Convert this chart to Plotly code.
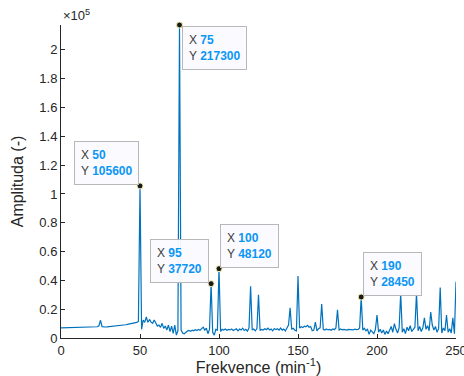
import plotly.graph_objects as go

# Frequency axis (min^-1) and spectrum amplitude
freq = list(range(0, 251))
amplitude = [
    # 0-49
    7000, 7050, 7100, 7120, 7150, 7180, 7200, 7230, 7260, 7290,
    7320, 7350, 7380, 7400, 7430, 7460, 7490, 7520, 7550, 7580,
    7610, 7650, 7700, 7800, 8500, 12300, 7900, 7600, 7650, 7700,
    7780, 7860, 7950, 8050, 8150, 8270, 8400, 8550, 8700, 8850,
    9000, 9200, 9400, 9600, 9800, 10000, 10250, 10500, 10800, 11500,
    # 50-99
    105600, 6000, 12500, 10900, 14600, 10900, 12900, 11000, 10200, 12500,
    9700, 8300, 9000, 7400, 10200, 6700, 8300, 5600, 9000, 4400,
    8300, 3200, 9000, 2000, 5000, 217300, 5500, 3500, 3000, 4200,
    4800, 5200, 4600, 5400, 5000, 5800, 5200, 6000, 5400, 6500,
    7500, 5500, 6800, 3000, 6000, 37720, 4000, 2000, 6000, 5500,
    # 100-149
    48120, 4500, 6000, 5500, 6200, 5400, 6000, 5600, 6300, 5200,
    5800, 6400, 5000, 6200, 5500, 6800, 5200, 6000, 4800, 7000,
    36000, 5500, 6200, 5000, 6500, 30000, 5200, 6000, 5500, 6400,
    5800, 6800, 5600, 6200, 5000, 6600, 5800, 6400, 5400, 6900,
    5500, 6200, 4900, 7500, 9000, 21000, 6000, 6800, 5400, 5000,
    # 150-199
    43000, 7000, 7800, 7200, 8200, 7800, 8800, 7500, 8000, 5000,
    5500, 11000, 5000, 6500, 7000, 23500, 6000, 5500, 6200, 5600,
    6000, 5400, 6300, 5800, 7000, 19500, 5500, 6200, 5600, 6000,
    5800, 5500, 6000, 5700, 5900, 5600, 6200, 5800, 6000, 7000,
    28450, 5500, 6800, 5000, 6000, 2500, 5500, 4500, 3000, 6000,
    # 200-250
    16000, 4000, 6000, 3500, 5500, 2500, 4800, 3000, 5500, 8000,
    4000, 10000, 6000, 3500, 7000, 31000, 4000, 6500, 3000, 7500,
    5000, 8500, 4500, 6000, 7500, 31000, 5000, 8000, 4500, 7000,
    14000, 6000, 8500, 5000, 18000, 9000, 5500, 8000, 4000, 6500,
    35000, 3500, 7000, 5000, 16000, 4000, 6500, 3500, 14000, 3000,
    39000,
]

# Data tips: frequency of the marked peak and how the tip box is placed
tip_freqs = [50, 75, 95, 100, 190]
tip_xanchor = ["right", "left", "right", "left", "left"]
tip_yanchor = ["bottom", "top", "bottom", "bottom", "bottom"]
tip_xshift = [-1, 2, -2, 1, 2]
tip_yshift = [1, -1, 1, 1, 1]

y_tickvals = [0, 20000, 40000, 60000, 80000, 100000, 120000, 140000, 160000, 180000, 200000]
y_ticktext = ["0", "0.2", "0.4", "0.6", "0.8", "1", "1.2", "1.4", "1.6", "1.8", "2"]
x_tickvals = [0, 50, 100, 150, 200, 250]

FONT = "Liberation Sans, Arial, Helvetica, sans-serif"
AXIS_COLOR = "#262626"
LINE_COLOR = "#0072BD"
VALUE_COLOR = "#0a96f5"

fig = go.Figure()
fig.add_trace(go.Scatter(
    x=freq, y=amplitude, mode="lines",
    line=dict(color=LINE_COLOR, width=1.2),
    hoverinfo="skip", showlegend=False,
))

tip_vals = [amplitude[freq.index(f)] for f in tip_freqs]
fig.add_trace(go.Scatter(
    x=tip_freqs, y=tip_vals, mode="markers",
    marker=dict(color="#1a1a1a", size=6, line=dict(color="#f3eeb0", width=1)),
    cliponaxis=False, hoverinfo="skip", showlegend=False,
))

for f, v, xa, ya, xs, ys in zip(tip_freqs, tip_vals, tip_xanchor, tip_yanchor, tip_xshift, tip_yshift):
    fig.add_annotation(
        x=f, y=v, xref="x", yref="y", showarrow=False,
        xanchor=xa, yanchor=ya, xshift=xs, yshift=ys,
        align="left",
        text=(f'X <span style="color:{VALUE_COLOR}"><b>{f}</b></span><br>'
              f'Y <span style="color:{VALUE_COLOR}"><b>{v}</b></span>'),
        font=dict(family=FONT, size=12, color="#3c3c3c"),
        bgcolor="rgba(250,250,255,0.96)", bordercolor="#b8b8b8",
        borderwidth=1, borderpad=6,
    )

# Exponent label above the y axis
fig.add_annotation(
    x=0, y=1, xref="paper", yref="paper", showarrow=False,
    xanchor="left", yanchor="bottom", yshift=0,
    text="×10<sup>5</sup>",
    font=dict(family=FONT, size=13, color=AXIS_COLOR),
)

fig.update_layout(
    width=464, height=376,
    margin=dict(l=61, r=8, t=25, b=38),
    paper_bgcolor="white", plot_bgcolor="white",
    font=dict(family=FONT, color=AXIS_COLOR),
    showlegend=False,
)
fig.update_xaxes(
    range=[0, 250], tickvals=x_tickvals, automargin=False,
    ticklabeloverflow="allow",
    showline=True, linecolor=AXIS_COLOR, linewidth=1,
    ticks="inside", ticklen=4, tickcolor=AXIS_COLOR,
    showgrid=False, zeroline=False,
    tickfont=dict(size=13, color=AXIS_COLOR),
    title=dict(text="Frekvence (min<sup>-1</sup>)", font=dict(size=16, color=AXIS_COLOR), standoff=4),
)
fig.update_yaxes(
    range=[0, 217300], tickvals=y_tickvals, ticktext=y_ticktext, automargin=False,
    showline=True, linecolor=AXIS_COLOR, linewidth=1,
    ticks="inside", ticklen=4, tickcolor=AXIS_COLOR,
    showgrid=False, zeroline=False,
    tickfont=dict(size=13, color=AXIS_COLOR),
    title=dict(text="Amplituda (-)", font=dict(size=16, color=AXIS_COLOR), standoff=11),
)

fig.write_html("out.html")
